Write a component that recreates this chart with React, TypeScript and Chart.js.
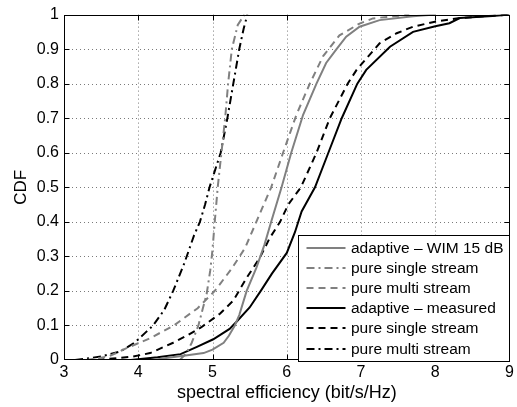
import React, { useEffect, useRef } from 'react';
import { Chart, registerables } from 'chart.js';

Chart.register(...registerables);

const GRAY = '#808080';
const BLACK = '#000000';

const seriesLabels = [
  'adaptive – WIM 15 dB',
  'pure single stream',
  'pure multi stream',
  'adaptive – measured',
  'pure single stream',
  'pure multi stream',
];

// [spectral efficiency, CDF]
const wimAdaptive: [number, number][] = [
  [4.2, 0], [4.35, 0.005], [4.66, 0.014], [4.88, 0.02], [5.0, 0.03], [5.15, 0.05],
  [5.22, 0.07], [5.3, 0.1], [5.36, 0.13], [5.46, 0.2], [5.59, 0.267], [5.7, 0.334],
  [5.79, 0.4], [5.93, 0.5], [6.06, 0.6], [6.22, 0.71], [6.4, 0.8], [6.53, 0.86],
  [6.67, 0.9], [6.8, 0.936], [6.98, 0.965], [7.25, 0.984], [7.7, 0.995], [8.0, 1],
];
const wimSingle: [number, number][] = [
  [4.56, 0], [4.65, 0.02], [4.72, 0.05], [4.81, 0.1], [4.87, 0.15], [4.92, 0.19],
  [4.97, 0.26], [5.0, 0.32], [5.03, 0.4], [5.07, 0.5], [5.12, 0.6], [5.17, 0.7],
  [5.21, 0.8], [5.26, 0.9], [5.34, 0.97], [5.43, 1],
];
const wimMulti: [number, number][] = [
  [3.3, 0], [3.6, 0.01], [3.85, 0.035], [4.15, 0.062], [4.48, 0.1], [4.8, 0.15],
  [5.03, 0.2], [5.26, 0.265], [5.44, 0.325], [5.59, 0.4], [5.79, 0.5], [5.95, 0.6],
  [6.13, 0.71], [6.31, 0.8], [6.49, 0.88], [6.71, 0.94], [6.98, 0.974], [7.16, 0.989],
  [7.65, 1],
];
const measAdaptive: [number, number][] = [
  [3.9, 0], [4.26, 0.008], [4.57, 0.017], [4.79, 0.038], [5.01, 0.06], [5.23, 0.09],
  [5.32, 0.11], [5.5, 0.152], [5.65, 0.2], [5.8, 0.25], [6.0, 0.31], [6.11, 0.37],
  [6.2, 0.43], [6.38, 0.5], [6.56, 0.6], [6.74, 0.7], [6.95, 0.8], [7.07, 0.84],
  [7.39, 0.907], [7.7, 0.95], [8.0, 0.966], [8.19, 0.975], [8.33, 0.99], [8.77, 0.996],
  [9, 1],
];
const measSingle: [number, number][] = [
  [3.45, 0], [3.93, 0.01], [4.16, 0.02], [4.47, 0.05], [4.65, 0.07], [4.85, 0.095],
  [5.1, 0.134], [5.28, 0.172], [5.46, 0.238], [5.64, 0.297], [5.77, 0.353], [5.91, 0.4],
  [6.02, 0.45], [6.19, 0.5], [6.4, 0.6], [6.58, 0.7], [6.82, 0.8], [6.94, 0.84],
  [7.25, 0.917], [7.48, 0.946], [7.7, 0.965], [8.01, 0.98], [8.33, 0.99], [8.77, 0.997],
  [9, 1],
];
const measMulti: [number, number][] = [
  [3.15, 0], [3.5, 0.01], [3.76, 0.025], [3.95, 0.05], [4.1, 0.08], [4.2, 0.1],
  [4.35, 0.145], [4.47, 0.2], [4.62, 0.28], [4.75, 0.36], [4.83, 0.4], [4.9, 0.45],
  [4.96, 0.5], [5.11, 0.6], [5.2, 0.7], [5.28, 0.8], [5.36, 0.9], [5.42, 0.96], [5.47, 1],
];

const xTickLabels = ['3', '4', '5', '6', '7', '8', '9'];
const yTickLabels = ['0', '0.1', '0.2', '0.3', '0.4', '0.5', '0.6', '0.7', '0.8', '0.9', '1'];

const FONT = "'Liberation Sans', Arial, Helvetica, sans-serif";
const DASH: number[] = [7, 5];
const DASHDOT: number[] = [8, 4, 2, 4];

const toPts = (arr: [number, number][]) => arr.map(([x, y]) => ({ x, y }));

const framePlugin = {
  id: 'matlabFrame',
  beforeDatasetsDraw(chart: any) {
    const { ctx, chartArea: a } = chart;
    const xs = chart.scales.x;
    const ys = chart.scales.y;
    ctx.save();
    ctx.strokeStyle = '#7a7a7a';
    ctx.lineWidth = 1;
    ctx.setLineDash([1, 3]);
    xs.ticks.forEach((t: any) => {
      if (t.value <= xs.min || t.value >= xs.max) return;
      const px = Math.round(xs.getPixelForValue(t.value)) + 0.5;
      ctx.beginPath();
      ctx.moveTo(px, a.top);
      ctx.lineTo(px, a.bottom);
      ctx.stroke();
    });
    ys.ticks.forEach((t: any) => {
      if (t.value <= ys.min + 1e-9 || t.value >= ys.max - 1e-9) return;
      const py = Math.round(ys.getPixelForValue(t.value)) + 0.5;
      ctx.beginPath();
      ctx.moveTo(a.left, py);
      ctx.lineTo(a.right, py);
      ctx.stroke();
    });
    ctx.restore();
  },
  afterDatasetsDraw(chart: any) {
    const { ctx, chartArea: a } = chart;
    const xs = chart.scales.x;
    const ys = chart.scales.y;
    ctx.save();
    ctx.setLineDash([]);
    ctx.strokeStyle = BLACK;
    ctx.lineWidth = 1;
    const L = Math.round(a.left) + 0.5;
    const R = Math.round(a.right) - 0.5;
    const T = Math.round(a.top) + 0.5;
    const B = Math.round(a.bottom) - 0.5;
    ctx.strokeRect(L, T, R - L, B - T);
    const tl = 5;
    ctx.beginPath();
    xs.ticks.forEach((t: any) => {
      if (t.value <= xs.min || t.value >= xs.max) return;
      const px = Math.round(xs.getPixelForValue(t.value)) + 0.5;
      ctx.moveTo(px, B); ctx.lineTo(px, B - tl);
      ctx.moveTo(px, T); ctx.lineTo(px, T + tl);
    });
    ys.ticks.forEach((t: any) => {
      if (t.value <= ys.min + 1e-9 || t.value >= ys.max - 1e-9) return;
      const py = Math.round(ys.getPixelForValue(t.value)) + 0.5;
      ctx.moveTo(L, py); ctx.lineTo(L + tl, py);
      ctx.moveTo(R, py); ctx.lineTo(R - tl, py);
    });
    ctx.stroke();
    ctx.restore();
  },
  afterDraw(chart: any) {
    const { ctx, chartArea: a } = chart;
    const w = 211;
    const h = 126;
    const x0 = Math.round(a.right) - 1 - w + 0.5;
    const y0 = Math.round(a.top) + 220 + 0.5;
    ctx.save();
    ctx.fillStyle = '#ffffff';
    ctx.fillRect(x0, y0, w, h);
    ctx.strokeStyle = BLACK;
    ctx.lineWidth = 1;
    ctx.setLineDash([]);
    ctx.strokeRect(x0, y0, w, h);
    ctx.font = `15.5px ${FONT}`;
    ctx.textBaseline = 'middle';
    ctx.textAlign = 'left';
    chart.data.datasets.forEach((ds: any, i: number) => {
      const yy = Math.round(y0 + 12.5 + i * 20.1);
      ctx.strokeStyle = ds.borderColor;
      ctx.lineWidth = ds.borderWidth;
      ctx.setLineDash(ds.borderDash || []);
      ctx.beginPath();
      ctx.moveTo(x0 + 8, yy);
      ctx.lineTo(x0 + 47, yy);
      ctx.stroke();
      ctx.setLineDash([]);
      ctx.fillStyle = BLACK;
      ctx.fillText(ds.label, x0 + 52.5, yy + 0.5);
    });
    ctx.restore();
  },
};

export default function App() {
  const ref = useRef<HTMLCanvasElement | null>(null);

  useEffect(() => {
    if (!ref.current) return;
    const mk = (i: number, data: [number, number][], color: string, dash: number[]) => ({
      label: seriesLabels[i],
      data: toPts(data),
      borderColor: color,
      backgroundColor: color,
      borderWidth: 2,
      borderDash: dash,
      pointRadius: 0,
      tension: 0,
      fill: false,
    });
    const chart = new Chart(ref.current, {
      type: 'line',
      data: {
        datasets: [
          mk(0, wimAdaptive, GRAY, []),
          mk(1, wimSingle, GRAY, DASHDOT),
          mk(2, wimMulti, GRAY, DASH),
          mk(3, measAdaptive, BLACK, []),
          mk(4, measSingle, BLACK, DASH),
          mk(5, measMulti, BLACK, DASHDOT),
        ],
      },
      options: {
        responsive: false,
        animation: false,
        devicePixelRatio: 1,
        parsing: true,
        layout: { padding: { left: 0, right: 7, top: 11, bottom: 0 } },
        plugins: {
          legend: { display: false },
          tooltip: { enabled: false },
        },
        scales: {
          x: {
            type: 'linear',
            min: 3,
            max: 9,
            grid: { display: false, drawTicks: false },
            border: { display: false },
            ticks: {
              stepSize: 1,
              padding: 3,
              color: BLACK,
              font: { family: FONT, size: 16 },
              maxRotation: 0,
              callback: (_v: any, idx: number) => xTickLabels[idx],
            },
            title: {
              display: true,
              text: 'spectral efficiency (bit/s/Hz)',
              color: BLACK,
              font: { family: FONT, size: 18 },
              padding: { top: 0, bottom: 3 },
            },
            afterFit: (s: any) => { s.height = 47; },
          },
          y: {
            type: 'linear',
            min: 0,
            max: 1,
            grid: { display: false, drawTicks: false },
            border: { display: false },
            ticks: {
              stepSize: 0.1,
              padding: 5,
              color: BLACK,
              font: { family: FONT, size: 16 },
              callback: (_v: any, idx: number) => yTickLabels[idx],
            },
            title: {
              display: true,
              text: 'CDF',
              color: BLACK,
              font: { family: FONT, size: 17 },
              padding: { top: 11, bottom: 0 },
            },
            afterFit: (s: any) => { s.width = 64; },
          },
        },
      } as any,
      plugins: [framePlugin],
    });
    return () => chart.destroy();
  }, []);

  return (
    <div style={{ position: 'absolute', left: 0, top: 0, width: 517, height: 407, background: '#fff' }}>
      <canvas ref={ref} width={517} height={407} />
    </div>
  );
}
